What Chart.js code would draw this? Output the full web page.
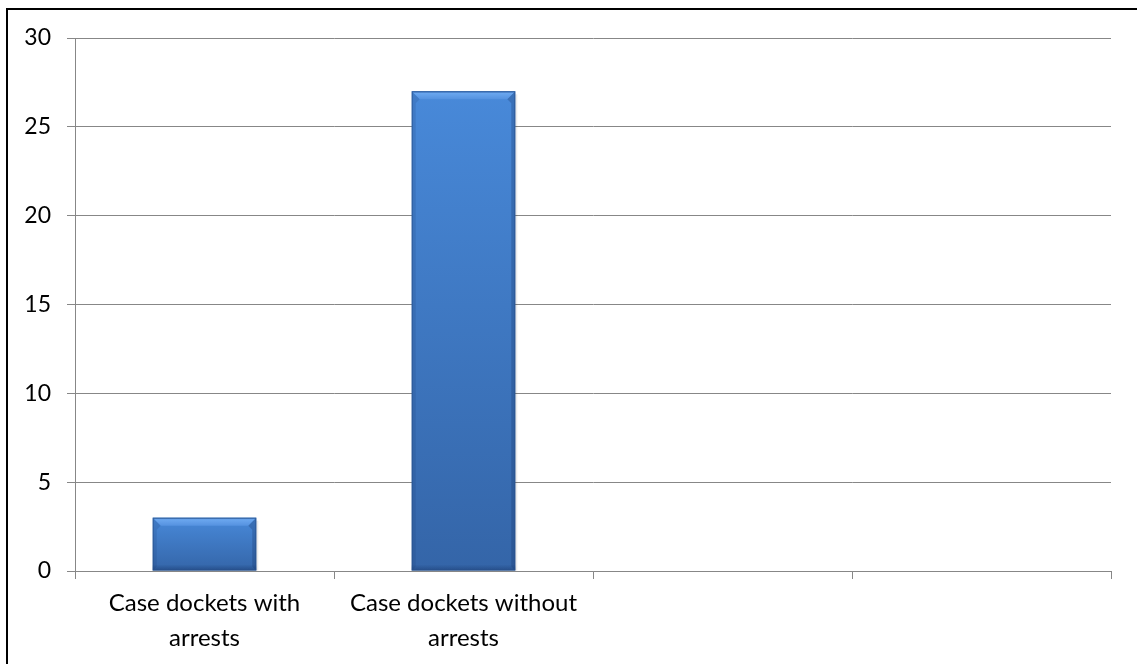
<!DOCTYPE html>
<html>
<head>
<meta charset="utf-8">
<script src="https://cdn.jsdelivr.net/npm/chart.js@4/dist/chart.umd.min.js"></script>
<style>
  html, body { margin: 0; padding: 0; background: #fff; }
  #wrap { position: relative; width: 1137px; height: 664px; overflow: hidden; }
  #frame { position: absolute; left: 6px; top: 8px; width: 1200px; height: 700px; border: 2px solid #000; box-sizing: border-box; }
  #c { position: absolute; left: 0; top: 0; }
</style>
</head>
<body>
<div id="wrap">
  <div id="frame"></div>
  <canvas id="c" width="1137" height="664"></canvas>
</div>
<script>
const categories = [["Case dockets with", "arrests"], ["Case dockets without", "arrests"], "", ""];
const docketCounts = [3, 27, null, null];
const yTicks = [0, 5, 10, 15, 20, 25, 30];

const FONT = "Lato, 'Open Sans', sans-serif";
const GRID = '#878787';

// Bevelled bar look: lighter top facet, soft darker sides and bottom edge
const bevelPlugin = {
  id: 'bevel',
  afterDatasetsDraw(chart) {
    const ctx = chart.ctx;
    const values = chart.data.datasets[0].data;
    chart.getDatasetMeta(0).data.forEach((bar, i) => {
      if (values[i] == null) return;
      const w = bar.width, x0 = bar.x - w / 2, x1 = bar.x + w / 2;
      const top = bar.y, bot = bar.base;
      const b = Math.min(8, (bot - top) / 3);
      const s = 4;
      ctx.save();
      // top facet
      const tg = ctx.createLinearGradient(0, top, 0, top + b);
      tg.addColorStop(0, '#3f78c2');
      tg.addColorStop(0.25, '#6aa6ee');
      tg.addColorStop(1, '#5592e0');
      ctx.fillStyle = tg;
      ctx.beginPath();
      ctx.moveTo(x0, top); ctx.lineTo(x1, top); ctx.lineTo(x1 - b, top + b); ctx.lineTo(x0 + b, top + b); ctx.closePath();
      ctx.fill();
      // left facet
      ctx.fillStyle = 'rgba(25,60,115,0.18)';
      ctx.beginPath();
      ctx.moveTo(x0, top); ctx.lineTo(x0 + b, top + b); ctx.lineTo(x0 + s, top + b + 4); ctx.lineTo(x0 + s, bot - s); ctx.lineTo(x0, bot); ctx.closePath();
      ctx.fill();
      // right facet
      ctx.fillStyle = 'rgba(20,50,100,0.28)';
      ctx.beginPath();
      ctx.moveTo(x1, top); ctx.lineTo(x1 - b, top + b); ctx.lineTo(x1 - s, top + b + 4); ctx.lineTo(x1 - s, bot - s); ctx.lineTo(x1, bot); ctx.closePath();
      ctx.fill();
      // bottom facet
      const bg = ctx.createLinearGradient(0, bot - 6, 0, bot);
      bg.addColorStop(0, 'rgba(20,50,100,0)');
      bg.addColorStop(1, 'rgba(20,50,100,0.45)');
      ctx.fillStyle = bg;
      ctx.fillRect(x0, bot - 6, w, 6);
      // soft shadow on the right
      ctx.fillStyle = 'rgba(0,0,0,0.08)';
      ctx.fillRect(x1, top + 3, 2, bot - top - 3);
      ctx.strokeStyle = 'rgba(40,80,140,0.7)';
      ctx.lineWidth = 1;
      ctx.strokeRect(x0 + 0.5, top + 0.5, w - 1, bot - top - 1);
      ctx.restore();
    });
  }
};

new Chart(document.getElementById('c'), {
  type: 'bar',
  data: {
    labels: categories,
    datasets: [{
      data: docketCounts,
      backgroundColor(ctx) {
        const chart = ctx.chart;
        const ys = chart.scales && chart.scales.y;
        if (!ys || ctx.raw == null || !chart.chartArea) return '#3f7cc7';
        const top = ys.getPixelForValue(ctx.raw);
        const bot = ys.getPixelForValue(0);
        const g = chart.ctx.createLinearGradient(0, top, 0, bot);
        g.addColorStop(0, '#4889d9');
        g.addColorStop(1, '#3465a8');
        return g;
      },
      borderWidth: 0,
      categoryPercentage: 1,
      barPercentage: 0.4
    }]
  },
  plugins: [bevelPlugin],
  options: {
    responsive: false,
    animation: false,
    events: [],
    layout: { padding: { left: 0, top: 38, right: 26, bottom: 0 } },
    plugins: { legend: { display: false }, tooltip: { enabled: false } },
    scales: {
      x: {
        offset: true,
        grid: { offset: true, drawOnChartArea: false, color: GRID, tickLength: 8 },
        border: { color: GRID, width: 1 },
        ticks: { color: '#000', font: { family: FONT, size: 24, lineHeight: 1.45 }, padding: 7, maxRotation: 0, autoSkip: false },
        afterFit(s) { s.height = 93; }
      },
      y: {
        min: 0, max: 30,
        afterBuildTicks(s) { s.ticks = yTicks.map(v => ({ value: v })); },
        grid: { color: GRID, tickLength: 8 },
        border: { color: GRID, width: 1 },
        ticks: { color: '#000', font: { family: FONT, size: 23 }, padding: 16 },
        afterFit(s) { s.width = 75; }
      }
    }
  }
});
</script>
</body>
</html>
